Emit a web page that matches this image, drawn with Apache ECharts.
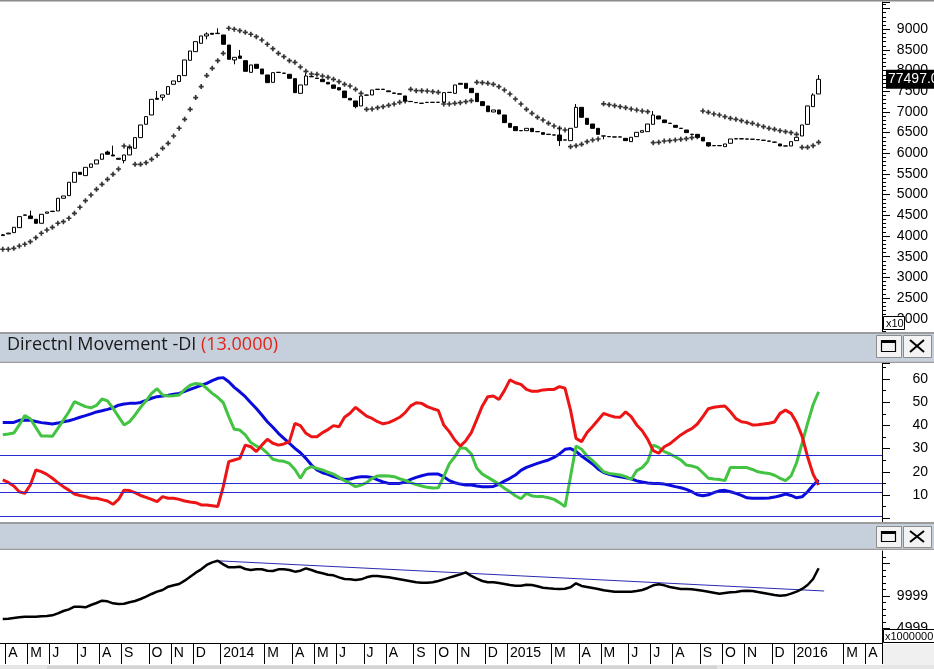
<!DOCTYPE html>
<html><head><meta charset="utf-8">
<script src="https://cdn.jsdelivr.net/npm/echarts@6/dist/echarts.min.js"></script>
<style>html,body{margin:0;padding:0;background:#fff;overflow:hidden}#c{width:934px;height:669px}</style>
</head><body><div id="c"></div>
<script>
// ---- categories (weekly bars, dated by week-ending Sunday) ----
const firstWeekUTC = Date.UTC(2013, 2, 31);
const weekCount = 160;
const monthLetters = ['J','F','M','A','M','J','J','A','S','O','N','D'];

// ---- price candles (axis units, labels are x10) ----
const opens = [4010,4050,4081,4202,4500,4484,4404,4307,4549,4590,
4605,4912,4976,5299,5540,5460,5661,5742,5855,6032,
5960,5879,5823,5960,6121,6379,6702,6927,7330,7355,
7427,7669,7734,7879,8250,8459,8661,8838,8903,8895,
8862,8620,8258,8354,8241,7959,8153,8040,7895,7717,
7955,7940,7911,7806,7451,7653,7860,7820,7790,7717,
7653,7588,7507,7330,7266,7145,7405,7411,7545,7550,
7510,7460,7440,7387,7255,7230,7212,7230,7233,7233,
7233,7470,7451,7693,7693,7572,7451,7250,7145,6999,
7048,6927,6725,6645,6550,6548,6604,6526,6500,6461,
6445,6443,6320,6306,6629,7112,6846,6709,6604,6421,
6405,6397,6397,6362,6282,6403,6508,6524,6701,6903,
6806,6727,6677,6606,6564,6461,6459,6387,6258,6187,
6187,6161,6242,6352,6352,6347,6342,6332,6317,6297,
6272,6226,6179,6177,6306,6419,6701,7129,7435];
const closes = [4030,4070,4210,4468,4510,4420,4307,4524,4581,4600,
4912,4968,5299,5540,5492,5661,5742,5839,5984,5976,
5936,5855,5960,6145,6379,6685,6887,7306,7306,7411,
7613,7750,7879,8258,8475,8701,8838,8886,8879,8905,
8637,8274,8322,8298,7983,8137,8056,7919,7709,7951,
7960,7935,7814,7467,7653,7870,7850,7810,7733,7677,
7572,7532,7346,7290,7129,7386,7410,7532,7550,7545,
7490,7450,7430,7266,7250,7225,7209,7233,7233,7235,
7467,7475,7653,7669,7572,7467,7250,7153,7007,7048,
6951,6742,6629,6548,6546,6604,6524,6522,6459,6457,
6441,6306,6324,6604,7112,6871,6701,6604,6459,6417,
6401,6393,6393,6306,6387,6508,6548,6709,6927,6830,
6742,6723,6629,6602,6500,6457,6387,6298,6177,6183,
6183,6226,6346,6348,6348,6343,6338,6328,6313,6293,
6268,6177,6175,6282,6387,6685,7145,7411,7790];
const highs = [4045,4075,4210,4468,4515,4613,4404,4524,4581,4605,
4912,4968,5299,5540,5540,5661,5742,5839,5984,6065,
6185,5879,5960,6145,6379,6685,6887,7306,7508,7411,
7613,7750,7879,8258,8475,8701,8838,8927,8903,9024,
8862,8620,8322,8500,8241,8137,8153,8040,7895,7951,
7962,7942,7911,7806,7653,7935,7862,7822,7790,7717,
7653,7588,7507,7330,7266,7386,7412,7532,7552,7552,
7510,7460,7440,7387,7257,7232,7214,7235,7235,7237,
7467,7477,7653,7693,7693,7572,7451,7250,7145,7048,
7048,6927,6725,6645,6552,6604,6604,6528,6500,6463,
6447,6629,6326,6604,7193,7112,6846,6709,6604,6423,
6407,6399,6399,6362,6387,6508,6548,6709,7024,6903,
6806,6729,6677,6608,6564,6463,6459,6387,6258,6189,
6189,6226,6346,6354,6354,6349,6344,6334,6319,6299,
6274,6226,6181,6282,6387,6685,7145,7451,7894];
const lows = [4000,4045,4081,4202,4495,4420,4307,4307,4549,4585,
4605,4912,4976,5299,5492,5460,5661,5742,5855,5976,
5936,5855,5758,5960,6121,6379,6702,6927,7306,7274,
7427,7669,7734,7879,8250,8459,8661,8758,8879,8890,
8637,8274,8153,8298,7983,7959,8056,7919,7709,7717,
7953,7933,7814,7467,7451,7653,7848,7808,7733,7677,
7572,7532,7346,7290,7088,7145,7403,7411,7543,7543,
7490,7450,7430,7266,7248,7223,7207,7228,7231,7231,
7233,7468,7451,7669,7572,7467,7250,7153,7007,6999,
6951,6742,6629,6548,6544,6548,6524,6520,6459,6455,
6439,6177,6318,6306,6629,6871,6701,6604,6459,6338,
6399,6391,6391,6306,6282,6403,6508,6524,6701,6830,
6742,6721,6629,6600,6500,6455,6387,6298,6160,6181,
6181,6161,6242,6346,6346,6341,6336,6326,6311,6291,
6266,6177,6173,6177,6306,6419,6701,7129,7435];
const sarValues = [3678,3678,3702,3758,3799,3863,3960,4065,4145,4210,
4307,4347,4428,4548,4694,4855,4992,5129,5250,5371,
5492,5621,6177,6153,5734,5734,5774,5855,5952,6121,
6242,6419,6605,6822,7064,7347,7613,7879,8056,8241,
8419,9024,9000,8967,8927,8879,8822,8741,8637,8532,
8419,8338,8241,8201,8088,7983,7919,7911,7870,7838,
7790,7733,7669,7628,7548,7451,7064,7072,7104,7129,
7161,7193,7233,7266,7548,7515,7515,7507,7491,7475,
7193,7193,7209,7225,7250,7274,7717,7709,7693,7669,
7612,7532,7435,7314,7193,7064,6967,6870,6806,6725,
6661,6604,6564,6161,6185,6217,6282,6322,6346,7197,
7177,7153,7129,7104,7072,7048,7024,7007,6258,6266,
6298,6306,6322,6338,6354,6379,6403,7024,6991,6951,
6927,6887,6846,6822,6790,6750,6725,6685,6645,6604,
6580,6548,6524,6500,6459,6145,6145,6185,6266];
const lastPriceText = '77497.0';

// ---- Directional movement panel ----
const adxBlue = [41.3,41.3,41.3,42.2,42.3,42.2,41.7,41.2,40.9,40.6,
41.0,41.6,42.0,42.7,43.5,44.2,45.0,45.8,46.3,46.9,
47.6,48.7,49.2,49.5,49.5,49.9,50.8,51.7,52.4,52.7,
53.0,53.4,53.8,54.7,55.5,56.4,57.3,58.1,59.3,60.3,
60.6,58.8,56.4,54.5,52.4,49.8,47.3,44.5,41.6,39.2,
36.6,34.4,32.3,30.1,28.2,25.8,22.9,20.8,19.6,18.9,
17.9,17.2,16.7,16.9,17.5,17.9,17.9,17.6,16.5,15.6,
15.0,15.0,15.0,15.6,16.7,17.6,18.3,18.9,19.0,19.0,
17.9,16.2,15.3,14.7,14.3,14.3,13.9,13.6,13.6,13.7,
14.6,16.0,17.2,18.6,20.6,21.9,22.8,23.6,24.4,25.1,
26.2,27.7,29.7,30.0,28.8,26.8,25.1,23.4,21.2,19.7,
18.9,18.3,17.9,17.4,17.0,16.1,15.6,15.2,15.0,15.0,
14.7,14.2,13.6,13.1,12.4,11.4,10.1,9.7,10.1,11.0,
11.8,12.0,11.4,10.7,9.8,8.8,8.6,8.6,8.6,8.7,
9.1,9.7,10.4,9.8,8.8,9.2,11.4,14.2,16.5];
const diGreen = [36.0,36.3,36.7,40.2,44.3,42.9,39.1,35.4,35.4,35.3,
38.7,42.3,45.9,50.2,49.2,48.1,47.6,48.6,51.4,50.6,
47.4,43.8,40.2,41.6,44.5,47.8,50.6,53.8,55.8,53.1,
52.7,52.8,53.1,55.5,57.3,58.1,57.7,56.0,53.8,52.1,
49.8,43.8,38.3,38.0,35.9,32.6,31.1,30.1,28.0,25.4,
24.8,24.5,23.6,21.0,17.2,21.1,22.2,21.5,20.8,19.8,
19.0,17.6,16.2,15.0,13.6,14.3,15.3,17.2,18.2,18.3,
18.2,17.9,17.0,16.3,15.3,14.5,13.9,13.3,13.0,13.1,
17.9,23.4,26.5,30.4,30.1,27.7,21.5,19.0,17.6,16.2,
14.7,12.9,11.4,9.7,8.4,10.7,9.6,9.3,9.3,8.8,
8.1,6.7,5.0,18.0,31.1,29.7,26.8,24.8,22.5,20.0,
19.3,19.0,18.6,17.9,16.7,20.5,21.8,24.4,31.5,30.5,
28.7,27.7,26.5,25.1,22.9,22.5,21.8,19.6,17.2,16.9,
16.7,16.2,21.9,21.9,21.9,21.8,21.0,20.0,19.6,19.3,
18.5,17.2,16.2,18.2,23.9,32.3,40.9,48.9,54.5];
const diRed = [16.5,15.4,13.9,11.4,10.7,14.3,20.8,20.1,18.9,17.2,
15.3,13.6,12.1,10.4,9.8,9.3,8.6,8.6,8.0,7.4,
6.0,8.1,12.1,11.9,11.0,9.8,9.0,8.1,7.1,9.3,
8.6,8.6,8.1,7.4,7.0,6.7,5.7,5.7,5.4,5.0,
13.6,24.4,25.1,25.8,31.5,30.8,28.7,31.5,34.0,32.3,
31.5,32.0,33.0,40.9,39.9,36.6,35.1,35.1,36.9,38.2,
39.9,39.4,43.5,45.2,47.8,45.9,44.0,43.0,41.6,40.7,
41.2,42.3,43.5,45.5,48.4,49.8,49.5,48.1,47.2,46.5,
40.2,37.3,33.7,31.1,33.4,36.9,42.6,48.4,52.4,52.7,
51.2,55.0,59.6,58.4,57.7,55.5,54.7,54.7,55.3,55.5,
55.5,56.7,56.0,46.6,34.4,33.0,36.9,39.5,42.3,45.2,
44.3,43.6,43.5,45.8,43.8,40.2,37.7,34.0,29.1,28.0,
30.8,32.0,34.0,35.9,37.4,38.6,40.6,43.8,47.2,47.8,
48.1,48.4,45.9,42.9,41.6,41.2,40.2,40.3,40.6,40.9,
41.5,45.2,46.6,45.2,41.2,35.4,26.5,19.0,14.3];
const dmiLevels = [27, 15, 11, 1];
const dmiTickLabels = [10, 20, 30, 40, 50, 60];

// ---- bottom panel (x1000000) ----
const obvLine = [6439,6490,6594,6697,6800,6800,6800,6852,6903,7006,
7316,7677,7935,8348,8348,8245,8606,8916,9277,9174,
8864,8761,8812,9019,9225,9535,9896,10309,10670,10928,
11444,11650,11857,12373,12992,13611,14127,14798,15211,15450,
14901,14436,14436,14540,14179,14024,14127,14127,13921,13869,
14127,14127,14024,13766,13921,14282,14024,13714,13508,13302,
13198,12889,12631,12579,12476,12579,12889,13095,13095,12992,
12889,12734,12579,12424,12270,12115,12063,12063,12115,12321,
12579,12837,13095,13353,13661,13095,12682,12321,12115,12115,
12012,11857,11702,11599,11599,11754,11702,11496,11289,11186,
11134,11083,11134,11340,11960,11547,11392,11238,11083,10876,
10773,10670,10670,10670,10670,10773,10928,11238,11650,11805,
11650,11392,11238,11083,11083,11031,10928,10825,10670,10515,
10360,10464,10567,10618,10773,10825,10773,10618,10464,10309,
10154,10051,10102,10360,10670,11083,11702,12631,14300];
const trendIdx = [39, 149];
const trendVal = [15450, 10773];
const bottomLabelValues = [4999, 9999];
const bottomMajorTicks = [4999, 9999, 14999];
const bottomMinorTicks = [3999,5999,6999,7999,8999,10999,11999,12999,13999,15999];

// ---------------------------------------------------------------
const weeks = [];
for (let i = 0; i < weekCount; i++) weeks.push(new Date(firstWeekUTC + i * 7 * 864e5).toISOString().slice(0, 10));
const monthOf = s => +s.slice(5, 7) - 1;
const isMonthTick = (idx) => idx > 0 && monthOf(weeks[idx]) !== monthOf(weeks[idx - 1]) && monthOf(weeks[idx]) !== 1;
const FONT = 'Liberation Sans, Arial, sans-serif';

const candleData = opens.map((o, i) => [o, closes[i], lows[i], highs[i]]);
const grids = [
  {left: 0, top: 2, width: 882, height: 331},
  {left: 0, top: 363, width: 882, height: 159},
  {left: 0, top: 551, width: 882, height: 92}
];
const hiddenX = gi => ({type: 'category', gridIndex: gi, data: weeks, boundaryGap: true, show: false});
const yLabel = {fontSize: 14, color: '#000', fontFamily: FONT, align: 'right', margin: 46};
const blackLine = {show: true, lineStyle: {color: '#000', width: 1}};

function btn(x, y, w, h, kind) {
  const els = [{type: 'rect', z: 100, shape: {x: x + 0.5, y: y + 0.5, width: w, height: h}, style: {fill: '#f3f3f3', stroke: '#8c8c8c', lineWidth: 1}}];
  if (kind === 'max') {
    els.push({type: 'rect', z: 101, shape: {x: x + 5.5, y: y + 5.5, width: w - 11, height: h - 11}, style: {fill: 'none', stroke: '#000', lineWidth: 1.2}});
    els.push({type: 'rect', z: 101, shape: {x: x + 5, y: y + 5, width: w - 10, height: 3}, style: {fill: '#000'}});
  } else {
    els.push({type: 'line', z: 101, shape: {x1: x + 7, y1: y + 5, x2: x + w - 7, y2: y + h - 5}, style: {stroke: '#000', lineWidth: 2}});
    els.push({type: 'line', z: 101, shape: {x1: x + w - 7, y1: y + 5, x2: x + 7, y2: y + h - 5}, style: {stroke: '#000', lineWidth: 2}});
  }
  return els;
}
function titleBar(y0, y1) {
  return [
    {type: 'rect', z: 90, shape: {x: 0, y: y0 - 2, width: 934, height: 2.5}, style: {fill: '#9c9c9c'}},
    {type: 'rect', z: 90, shape: {x: 0, y: y0, width: 934, height: y1 - y0}, style: {fill: '#c5d0dc'}},
    {type: 'rect', z: 90, shape: {x: 0, y: y1, width: 934, height: 1.5}, style: {fill: '#9c9c9c'}}
  ];
}

const graphics = [].concat(
  [{type: 'rect', z: 90, shape: {x: 0, y: 0, width: 934, height: 1.5}, style: {fill: '#8a8a8a'}}],
  titleBar(334, 361.5),
  [{type: 'text', z: 95, left: 7, top: 336, style: {
    text: '{a|Directnl Movement -DI }{b|(13.0000)}',
    rich: {a: {fontSize: 18, fontFamily: 'Open Sans', fill: '#1a1a1a'}, b: {fontSize: 18, fontFamily: 'Open Sans', fill: '#e2231a'}}
  }}],
  btn(876, 335, 25, 22, 'max'), btn(903, 335, 28, 22, 'close'),
  titleBar(524, 548.5),
  btn(876, 526, 25, 21, 'max'), btn(903, 526, 28, 21, 'close'),
  [
    {type: 'rect', z: 100, shape: {x: 883.5, y: 316.5, width: 21, height: 13}, style: {fill: '#fff', stroke: '#000', lineWidth: 1}},
    {type: 'text', z: 101, x: 886, y: 323.5, style: {text: 'x10', fontSize: 11, fontFamily: FONT, fill: '#000', verticalAlign: 'middle'}},
    {type: 'rect', z: 100, shape: {x: 883.5, y: 629.5, width: 52, height: 13}, style: {fill: '#fff', stroke: '#000', lineWidth: 1}},
    {type: 'text', z: 101, x: 885, y: 636.5, style: {text: 'x1000000', fontSize: 11, fontFamily: FONT, fill: '#000', verticalAlign: 'middle'}},
    {type: 'rect', z: 80, shape: {x: 883, y: 644, width: 51, height: 21}, style: {fill: '#f0f0f0'}},
    {type: 'rect', z: 80, shape: {x: 0, y: 665, width: 934, height: 4}, style: {fill: '#e6e6e6'}},
    {type: 'rect', z: 81, shape: {x: 47, y: 665.5, width: 670, height: 3.5}, style: {fill: '#d4d4d4'}}
  ]
);

const option = {
  animation: false,
  backgroundColor: '#fff',
  grid: grids,
  xAxis: [hiddenX(0), hiddenX(1), {
    type: 'category', gridIndex: 2, data: weeks, boundaryGap: true,
    axisLine: blackLine,
    axisTick: {show: true, interval: isMonthTick, length: 21, lineStyle: {color: '#000', width: 1}},
    axisLabel: {
      interval: isMonthTick, align: 'left', margin: 3, fontSize: 14, color: '#000', fontFamily: FONT,
      formatter: (v) => monthOf(v) === 0 ? v.slice(0, 4) : monthLetters[monthOf(v)]
    }
  }],
  yAxis: [
    {type: 'value', gridIndex: 0, position: 'right', min: 1653, max: 9660, splitNumber: 16,
      axisLine: blackLine, splitLine: {show: false},
      axisTick: {show: true, length: 8, lineStyle: {color: '#000'}},
      minorTick: {show: true, splitNumber: 5, length: 4, lineStyle: {color: '#000'}},
      axisLabel: Object.assign({}, yLabel, {formatter: v => (v % 500 === 0 && v >= 2000 && v <= 9000) ? String(v) : ''})},
    {type: 'value', gridIndex: 1, position: 'right', min: -1.64, max: 66.9, splitNumber: 7,
      axisLine: blackLine, splitLine: {show: false},
      axisTick: {show: true, length: 8, lineStyle: {color: '#000'}},
      minorTick: {show: true, splitNumber: 2, length: 4, lineStyle: {color: '#000'}},
      axisLabel: Object.assign({}, yLabel, {formatter: v => dmiTickLabels.indexOf(v) >= 0 ? String(v) : ''})},
    {type: 'value', gridIndex: 2, position: 'right', min: 2723, max: 16965,
      axisLine: blackLine, splitLine: {show: false},
      axisTick: {show: true, length: 8, customValues: bottomMajorTicks, lineStyle: {color: '#000'}},
      axisLabel: Object.assign({}, yLabel, {customValues: bottomLabelValues, formatter: v => String(v)})},
    {type: 'value', gridIndex: 2, position: 'right', min: 2723, max: 16965,
      axisLine: {show: false}, splitLine: {show: false}, axisLabel: {show: false},
      axisTick: {show: true, length: 4, customValues: bottomMinorTicks, lineStyle: {color: '#000'}}}
  ],
  series: [
    {type: 'candlestick', xAxisIndex: 0, yAxisIndex: 0, data: candleData, barWidth: 4,
      itemStyle: {color: '#fff', color0: '#000', borderColor: '#000', borderColor0: '#000', borderWidth: 1}},
    {type: 'scatter', xAxisIndex: 0, yAxisIndex: 0, data: sarValues,
      symbol: 'path://M2,0H4V2H6V4H4V6H2V4H0V2H2Z', symbolSize: 5, itemStyle: {color: '#000'}},
    {type: 'line', xAxisIndex: 1, yAxisIndex: 1, data: adxBlue, showSymbol: false, symbol: 'none',
      lineStyle: {color: '#0a0adc', width: 3},
      markLine: {silent: true, symbol: ['none', 'none'], label: {show: false},
        lineStyle: {color: '#2a2ad2', width: 1, type: 'solid'},
        data: dmiLevels.map(v => ({yAxis: v}))}},
    {type: 'line', xAxisIndex: 1, yAxisIndex: 1, data: diGreen, showSymbol: false, symbol: 'none',
      lineStyle: {color: '#42c442', width: 3}},
    {type: 'line', xAxisIndex: 1, yAxisIndex: 1, data: diRed, showSymbol: false, symbol: 'none',
      lineStyle: {color: '#ec1414', width: 3}},
    {type: 'line', xAxisIndex: 2, yAxisIndex: 2, data: trendIdx.map((x, i) => [x, trendVal[i]]),
      showSymbol: false, symbol: 'none', lineStyle: {color: '#2a2ab4', width: 1}},
    {type: 'line', xAxisIndex: 2, yAxisIndex: 2, data: obvLine, showSymbol: false, symbol: 'none',
      lineStyle: {color: '#000', width: 2.5}}
  ]
};
const chart = echarts.init(document.getElementById('c'), null, {width: 934, height: 669});
chart.setOption(option);
// last-price tag on the price axis, positioned through the axis scale
const lastY = chart.convertToPixel({yAxisIndex: 0}, closes[closes.length - 1]);
const priceTag = {type: 'text', z: 110, x: 886, y: lastY, style: {
  text: lastPriceText, fill: '#fff', backgroundColor: '#000', padding: [3, 4, 2, 2],
  fontSize: 14, fontFamily: FONT, verticalAlign: 'middle'}};
chart.setOption({graphic: graphics.concat([priceTag])});
</script>
</body></html>
